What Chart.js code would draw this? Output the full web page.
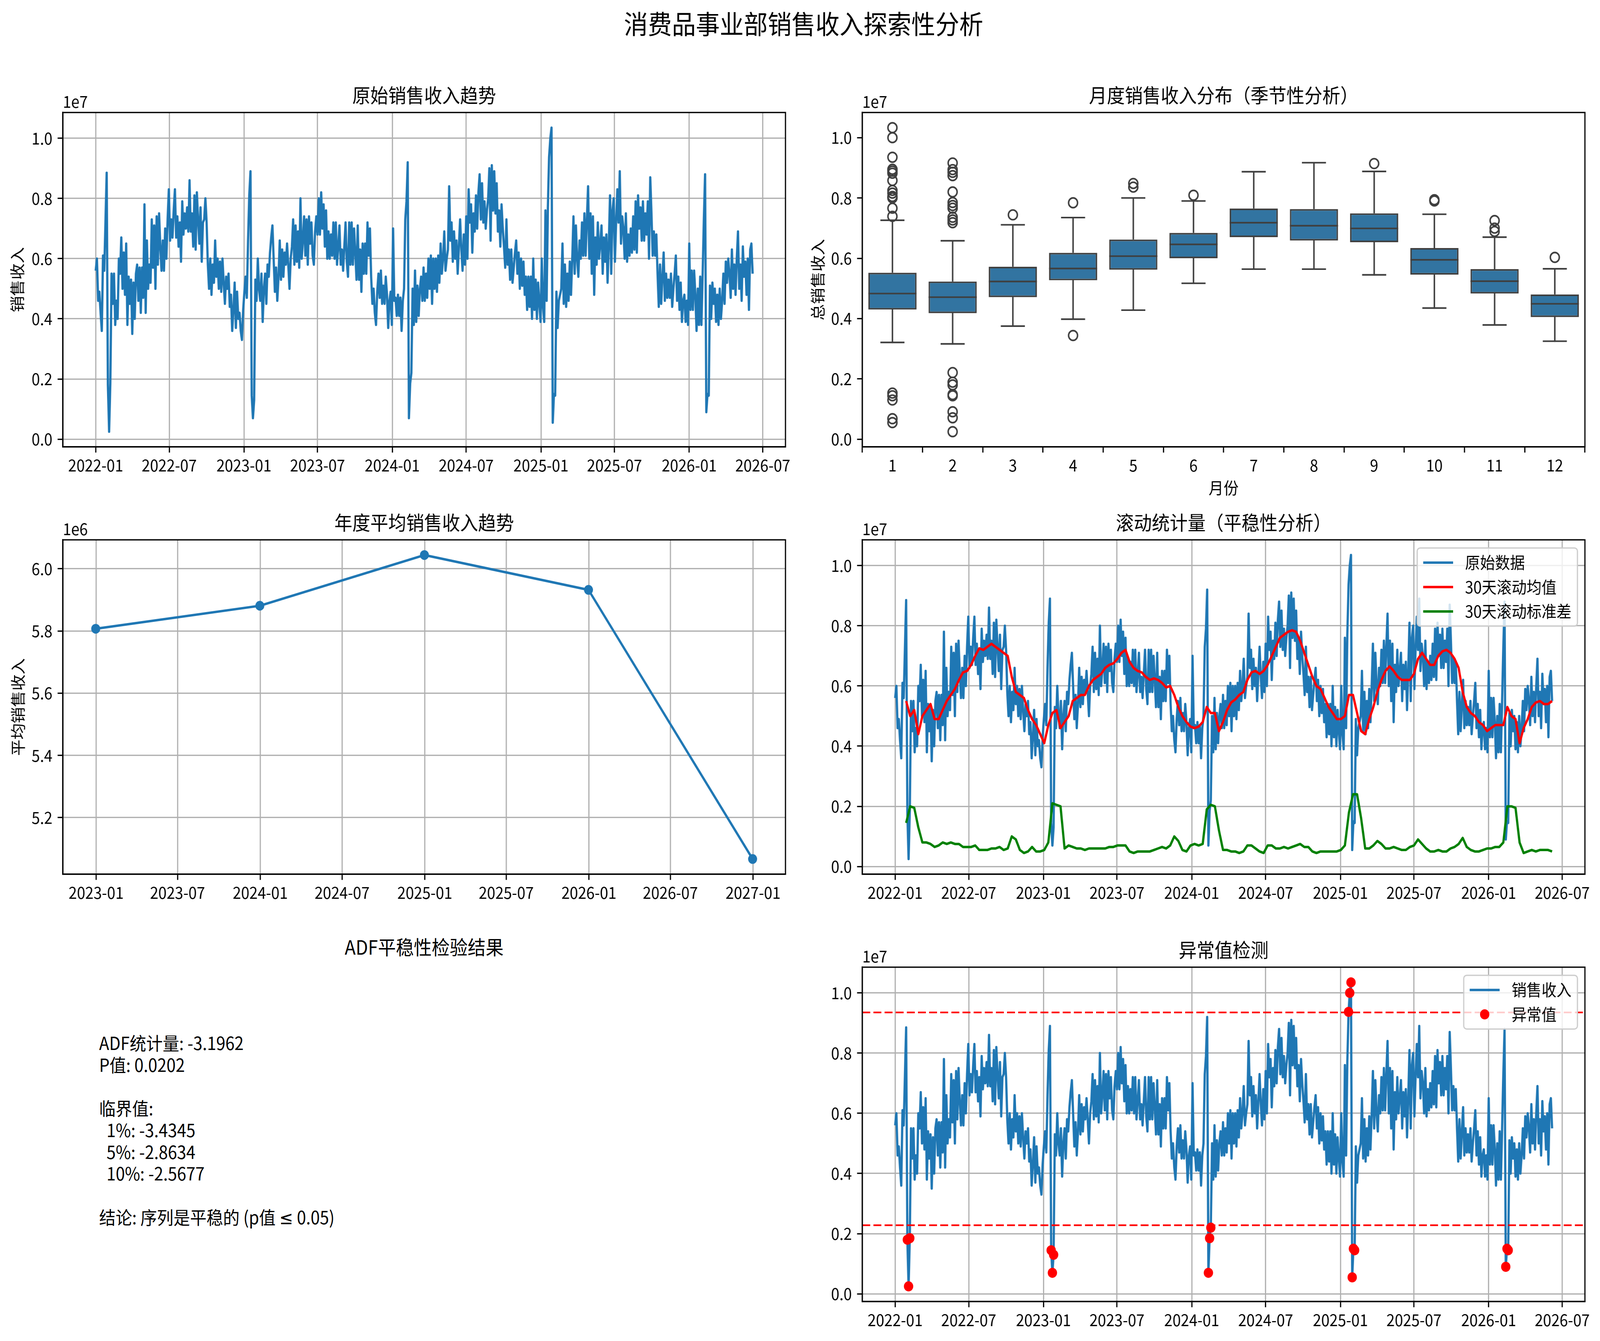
<!DOCTYPE html>
<html>
<head>
<meta charset="utf-8">
<script src="https://cdn.jsdelivr.net/npm/chart.js@4.4.1/dist/chart.umd.min.js"></script>
<style>
  html, body { margin: 0; padding: 0; background: #fff; overflow: hidden; }
  #fig { position: relative; width: 4455px; height: 3433px; overflow: hidden; background: #fff;
         font-family: "Noto Sans CJK SC", "Noto Sans", sans-serif; color: #000; transform-origin: 0 0; }
  canvas { position: absolute; }
  .txt { position: absolute; white-space: pre; }
  .sym { font-family: "DejaVu Sans", sans-serif; }
</style>
</head>
<body>
<div id="fig">
  <div class="txt" style="left:10px;top:18px;width:4455px;text-align:center;font-size:66.7px;line-height:80px;">消费品事业部销售收入探索性分析</div>

  <canvas id="raw" width="2227" height="1025" style="left:0px;top:214px;"></canvas>
  <canvas id="box" width="2227" height="1090" style="left:2226px;top:214px;"></canvas>
  <canvas id="year" width="2227" height="1025" style="left:0px;top:1308px;"></canvas>
  <canvas id="roll" width="2227" height="1025" style="left:2226px;top:1308px;"></canvas>
  <canvas id="anom" width="2227" height="1025" style="left:2226px;top:2402px;"></canvas>

  <div class="txt" style="left:175px;top:2392px;width:2012px;text-align:center;font-size:50px;line-height:60px;">ADF平稳性检验结果</div>
  <div class="txt" id="adf" style="left:276px;top:2641px;font-size:46px;line-height:55.7px;"></div>
</div>

<script>
// ---------- data (销售收入单位: 1e5) ----------
const startDate = '2022-01-01';
const stepDays = 3;
const revenue = [
  56, 60, 46, 49, 42, 36, 61, 56, 72, 88.5,
  18, 2.5, 18.5, 55, 45, 55, 38, 46, 40, 60,
  55, 67, 50, 62, 48, 65, 38, 54, 45, 53,
  35, 52, 40, 55, 58, 46, 57, 42, 57, 47,
  78, 42, 66, 50, 58, 52, 73, 57, 71, 50,
  74, 58, 75, 64, 56, 66, 56, 70, 60, 73,
  83, 66, 73, 67, 76, 83, 67, 74, 64, 72,
  59, 79, 68, 75, 70, 77, 69, 86, 69, 75,
  64, 81, 63, 82, 73, 65, 77, 59, 72, 73,
  80, 72, 58, 50, 60, 48, 58, 52, 66, 54,
  60, 50, 59, 49, 60, 52, 45, 54, 50, 55,
  44, 48, 36, 43, 52, 37, 49, 40, 42, 36,
  33, 43, 49, 54, 47, 66, 81, 89, 14.5, 7,
  13, 53, 46, 60, 50, 46, 55, 39, 50, 55,
  45, 58, 54, 62, 67, 71, 60, 49, 57, 46,
  54, 66, 53, 63, 54, 62, 58, 65, 58, 50,
  60, 64, 73, 58, 71, 59, 69, 57, 80, 60,
  66, 74, 61, 73, 58, 74, 65, 72, 61, 58,
  69, 74, 68, 80, 68, 82, 70, 78, 64, 76,
  60, 69, 60, 68, 61, 72, 60, 72, 58, 64,
  71, 58, 63, 56, 64, 72, 59, 54, 72, 58,
  72, 58, 70, 62, 53, 71, 53, 63, 49, 65,
  55, 65, 55, 72, 61, 70, 54, 45, 50, 42,
  38, 49, 55, 47, 56, 45, 51, 45, 54, 48,
  37, 46, 49, 38, 70, 46, 47, 41, 48, 41,
  47, 36, 46, 50, 73, 79, 92, 7, 18.5, 22,
  50, 38, 56, 39, 51, 41, 50, 54, 46, 57,
  46, 55, 47, 60, 50, 61, 45, 60, 50, 60,
  49, 61, 52, 65, 55, 60, 69, 56, 60, 63,
  84, 66, 72, 59, 69, 60, 66, 55, 64, 73,
  63, 56, 68, 58, 74, 60, 83, 72, 78, 62,
  75, 69, 81, 70, 82, 88, 73, 85, 72, 79,
  70, 76, 80, 90, 66, 91, 76, 89, 75, 85,
  69, 76, 64, 78, 70, 64, 57, 73, 58, 63,
  53, 63, 52, 57, 62, 66, 55, 62, 50, 60,
  51, 59, 48, 54, 43, 54, 44, 54, 40, 60,
  43, 53, 40, 52, 45, 39, 60, 44, 39, 76,
  46, 77, 93.7, 100, 103.5, 5.5, 15, 14.5, 49, 37,
  46, 48, 50, 65, 45, 58, 44, 55, 46, 59,
  48, 60, 74, 55, 71, 60, 54, 66, 60, 72,
  61, 75, 61, 73, 84, 60, 75, 55, 74, 48,
  67, 58, 72, 60, 65, 71, 55, 67, 59, 68,
  52, 65, 81, 55, 76, 80, 59, 72, 83, 72,
  89, 65, 74, 70, 60, 75, 59, 68, 61, 70,
  62, 74, 63, 79, 62, 81, 70, 77, 66, 79,
  66, 75, 68, 79, 60, 87, 75, 61, 69, 61,
  68, 55, 44, 58, 45, 54, 62, 46, 55, 47,
  53, 47, 55, 44, 50, 55, 61, 46, 54, 43,
  52, 39, 46, 48, 39, 46, 38, 65, 43, 56,
  43, 56, 48, 36, 50, 38, 54, 38, 55, 73,
  88, 9, 15, 14.5, 51, 40, 52, 45, 50, 39,
  48, 38, 50, 40, 46, 55, 45, 59, 52, 60,
  55, 47, 63, 50, 58, 48, 60, 69, 50, 58,
  46, 64, 54, 59, 48, 60, 43, 63, 65, 55
];

// 30天滚动统计量 (从第27天起, 每10天一个读数)
const rollStart = 27;
const rollStep = 10;
const rollMean = [
  55, 50, 52, 44, 50, 52, 54, 49, 49, 52,
  55, 57, 59, 62, 64.5, 65, 67, 70, 72.5, 72,
  73, 74, 73, 72, 71, 70, 63, 58, 57, 56,
  52, 49, 47, 44, 41, 47, 51, 52, 46, 48,
  50, 55, 56, 57, 57, 60, 62, 63, 64, 66,
  67, 67.5, 69, 71, 72, 68, 66, 65, 64.5, 63,
  62, 62.5, 62, 61, 59.5, 60, 57, 53, 50, 48,
  46.5, 46, 46.5, 48, 53, 51, 51, 45, 48, 52,
  54.5, 55.5, 57, 58, 62, 64.5, 65, 64, 65, 67,
  70, 73, 76, 77, 78, 78.5, 78, 75, 71, 67,
  63, 60, 59, 56, 53, 51, 49, 49, 50, 57,
  57, 51, 45, 44, 49, 53, 58, 62, 65, 66.5,
  65, 63, 62, 62, 62, 64, 69, 71, 69, 67,
  67, 70, 71.5, 72, 71, 69, 66, 58, 53, 51,
  50, 48, 47, 45, 46, 47, 47, 47, 53, 50,
  49, 41, 46, 49, 53, 54.5, 55, 54, 54, 55
];
const rollStd = [
  14.5, 20, 19.5, 13, 8, 8, 7.5, 6.5, 7, 8,
  7.5, 8, 7.5, 7.5, 6.5, 6.5, 6.5, 7, 5.5, 5.5,
  5.5, 6, 6, 6.5, 5.5, 6, 10, 9, 5.5, 4.5,
  5, 6.5, 5, 5, 5.5, 8, 21, 20.5, 20, 6,
  7, 6.5, 6, 6, 5.5, 6, 6, 6, 6, 6,
  6.5, 6.5, 7, 7, 7, 5, 4.5, 5, 5, 5,
  5, 5.5, 6, 6.5, 6, 7, 10, 8.5, 5.5, 5,
  7, 7.5, 7, 7.5, 19, 20.5, 20, 12, 5.5, 5.5,
  5, 5, 4.5, 5, 7, 7, 6, 5, 4.5, 7,
  7, 6, 6, 6.5, 6, 6.5, 7, 7.5, 6.5, 6.5,
  5, 4.5, 5, 5, 5, 5, 5, 5.5, 7, 18,
  24, 24, 16, 6, 6, 7, 8.5, 7.5, 6, 6,
  6.5, 6, 5.5, 5.5, 6.5, 7, 9, 7.5, 6, 5,
  5, 5.5, 5, 5, 6, 6.5, 7.5, 9.5, 6.5, 5.5,
  5, 5, 5.5, 6, 6, 6.5, 6.5, 8, 20, 20,
  19.5, 8, 4.5, 5, 5.5, 5, 5.5, 5.5, 5.5, 5
];

// 年度平均 (年末日期)
const yearEnds = ['2022-12-31', '2023-12-31', '2024-12-31', '2025-12-31', '2026-12-31'];
const yearMean = [58.07, 58.81, 60.44, 59.32, 50.67];

// 月度箱线图
const months = [1, 2, 3, 4, 5, 6, 7, 8, 9, 10, 11, 12];
const boxQ1 = [43.0, 41.8, 47.1, 52.7, 56.2, 60.0, 67.0, 65.9, 65.3, 54.6, 48.3, 40.5];
const boxMed = [48.3, 47.1, 52.3, 56.6, 60.7, 64.6, 71.8, 70.8, 69.9, 59.5, 52.4, 44.9];
const boxQ3 = [55.2, 52.3, 57.2, 61.8, 66.2, 68.4, 76.5, 76.3, 74.9, 63.4, 56.4, 48.0];
const whiskLo = [32.1, 31.6, 37.5, 39.8, 42.8, 51.7, 56.4, 56.4, 54.5, 43.5, 37.9, 32.5];
const whiskHi = [72.6, 65.8, 71.1, 73.5, 80.0, 79.0, 88.7, 91.7, 88.8, 74.6, 67.0, 56.5];
const boxOutliers = [
  [103.3, 100, 93.5, 89.5, 88.9, 88.2, 85.8, 82.5, 81.6, 80.5, 80, 76.6, 73.9, 15.3, 14.4, 13, 6.8, 5.5],
  [91.6, 89.4, 88.5, 87.4, 82, 78.5, 77.5, 76.6, 73.6, 72.7, 71.8, 22.1, 18.9, 18, 14.8, 14.4, 9.1, 7.1, 2.5],
  [74.4], [78.4, 34.4], [84.8, 83.6], [80.9], [], [], [91.4], [79.4, 79], [72.5, 70, 68.9], [60.3]
];

// 异常值阈值
const upperBound = 93.5;
const lowerBound = 22.8;

// 刻度
const dateTicks = ['2022-01', '2022-07', '2023-01', '2023-07', '2024-01', '2024-07', '2025-01', '2025-07', '2026-01', '2026-07'];
const yearTicks = ['2023-01', '2023-07', '2024-01', '2024-07', '2025-01', '2025-07', '2026-01', '2026-07', '2027-01'];
const revTicks = [0, 0.2, 0.4, 0.6, 0.8, 1.0];
const meanTicks = [5.2, 5.4, 5.6, 5.8, 6.0];

const adfLines = [
  'ADF统计量: -3.1962',
  'P值: 0.0202',
  '',
  '临界值:',
  '  1%: -3.4345',
  '  5%: -2.8634',
  '  10%: -2.5677',
  '',
  '结论: 序列是平稳的 (p值 ≤ 0.05)'
];

// ---------- helpers ----------
const PT = 300 / 72;
const FONT = '"Noto Sans CJK SC", "Noto Sans", sans-serif';
const BLUE = '#1f77b4';
const BOXLINE = '#3f3f3f';
const FIG_W = 4455, FIG_H = 3433;

// fit the fixed-size figure into the real viewport
const fig = document.getElementById('fig');
const sx = Math.min(1, window.innerWidth / FIG_W), sy = Math.min(1, window.innerHeight / FIG_H);
if (sx < 1 || sy < 1) fig.style.transform = `scale(${sx}, ${sy})`;

Chart.defaults.font.family = FONT;
Chart.defaults.font.size = 10 * PT;
Chart.defaults.color = '#000';

function dayOf(s) {
  const p = s.split('-').map(Number);
  const s0 = startDate.split('-').map(Number);
  return (Date.UTC(p[0], p[1] - 1, p[2] || 1) - Date.UTC(s0[0], s0[1] - 1, s0[2])) / 864e5;
}
function margins(lo, hi) {
  const m = (hi - lo) * 0.05;
  return [lo - m, hi + m];
}

const gridOpts = (onArea) => ({
  display: true, drawOnChartArea: onArea, color: '#b0b0b0', lineWidth: 0.8 * PT,
  drawTicks: true, tickLength: 3.5 * PT, tickWidth: 0.8 * PT, tickColor: '#000'
});
const borderOpts = { display: true, color: '#000', width: 0.8 * PT };

function xDates(labels, lo, hi, h) {
  const pos = labels.map(dayOf);
  return {
    type: 'linear', min: lo, max: hi, offset: false,
    afterBuildTicks: s => { s.ticks = pos.map(v => ({ value: v })); },
    afterFit: s => { s.height = h; },
    ticks: { autoSkip: false, maxRotation: 0, padding: 8, callback: (v, i) => labels[i] },
    grid: gridOpts(true), border: borderOpts
  };
}
function yVals(ticks, lo, hi, title, padTop, onArea) {
  return {
    type: 'linear', min: lo, max: hi,
    afterBuildTicks: s => { s.ticks = ticks.map(v => ({ value: v })); },
    afterFit: s => { s.width = 175; },
    ticks: { padding: 3.5 * PT, callback: v => v.toFixed(1) },
    grid: gridOpts(onArea), border: borderOpts,
    title: title ? { display: true, text: title, padding: { top: padTop, bottom: 0 } } : { display: false }
  };
}
function baseOptions(title, xs, ys, extra) {
  return {
    responsive: false, animation: false, devicePixelRatio: 1, events: [],
    layout: { padding: { left: 0, right: 40, top: 0, bottom: 0 } },
    scales: { x: xs, y: ys },
    plugins: Object.assign({
      legend: { display: false }, tooltip: { enabled: false },
      title: { display: true, text: title, fullSize: false, color: '#000',
               font: { size: 12 * PT, weight: 'normal' }, padding: { top: 0, bottom: 14 } }
    }, extra)
  };
}

// frame on all four sides, like matplotlib spines
Chart.register({
  id: 'frame',
  afterDatasetsDraw(chart) {
    const { ctx, chartArea: a } = chart;
    ctx.save();
    ctx.strokeStyle = '#000';
    ctx.lineWidth = 0.8 * PT;
    ctx.strokeRect(a.left, a.top, a.width, a.height);
    ctx.restore();
  }
});
// "1e7" offset label above the y axis
Chart.register({
  id: 'offsetText',
  defaults: { text: '' },
  afterDraw(chart, args, o) {
    if (!o.text) return;
    const { ctx, chartArea: a } = chart;
    ctx.save();
    ctx.font = (10 * PT) + 'px ' + FONT;
    ctx.fillStyle = '#000';
    ctx.textAlign = 'left';
    ctx.textBaseline = 'alphabetic';
    ctx.fillText(o.text, a.left, a.top - 12);
    ctx.restore();
  }
});
// legend box in the upper right corner of the plot area
Chart.register({
  id: 'mplLegend',
  defaults: { items: null },
  afterDraw(chart, args, o) {
    if (!o.items) return;
    const { ctx, chartArea: a } = chart;
    const fs = 10 * PT, pad = 0.4 * fs, hl = 2 * fs, gap = 0.8 * fs, sp = 0.5 * fs, inset = 0.5 * fs;
    ctx.save();
    ctx.font = fs + 'px ' + FONT;
    const tw = Math.max(...o.items.map(it => ctx.measureText(it.label).width));
    const w = 2 * pad + hl + gap + tw;
    const h = 2 * pad + o.items.length * fs + (o.items.length - 1) * sp;
    const x0 = a.right - inset - w, y0 = a.top + inset;
    ctx.beginPath();
    ctx.roundRect(x0, y0, w, h, 0.2 * fs);
    ctx.fillStyle = 'rgba(255,255,255,0.8)';
    ctx.fill();
    ctx.strokeStyle = '#cccccc';
    ctx.lineWidth = 0.8 * PT;
    ctx.stroke();
    o.items.forEach((it, i) => {
      const cy = y0 + pad + fs / 2 + i * (fs + sp);
      ctx.beginPath();
      if (it.dot) {
        ctx.arc(x0 + pad + hl / 2, cy, 13, 0, Math.PI * 2);
        ctx.fillStyle = it.color;
        ctx.fill();
      } else {
        ctx.moveTo(x0 + pad, cy);
        ctx.lineTo(x0 + pad + hl, cy);
        ctx.strokeStyle = it.color;
        ctx.lineWidth = 1.5 * PT;
        ctx.stroke();
      }
      ctx.fillStyle = '#000';
      ctx.textAlign = 'left';
      ctx.textBaseline = 'middle';
      ctx.fillText(it.label, x0 + pad + hl + gap, cy);
    });
    ctx.restore();
  }
});

// ---------- derived series ----------
const rawPts = revenue.map((v, i) => ({ x: i * stepDays, y: v / 100 }));
const meanPts = rollMean.map((v, k) => ({ x: rollStart + k * rollStep, y: v / 100 }));
const stdPts = rollStd.map((v, k) => ({ x: rollStart + k * rollStep, y: v / 100 }));
const lastDay = (revenue.length - 1) * stepDays;
const [dLo, dHi] = margins(0, lastDay);
const [rLo, rHi] = margins(Math.min(...revenue) / 100, Math.max(...revenue) / 100);

const lineDs = (data, color, order, extra) => Object.assign({
  type: 'line', data, borderColor: color, backgroundColor: color, borderWidth: 1.5 * PT,
  pointRadius: 0, tension: 0, borderJoinStyle: 'round', borderCapStyle: 'butt', order
}, extra || {});

// 1. 原始销售收入趋势
new Chart(document.getElementById('raw'), {
  type: 'line',
  data: { datasets: [lineDs(rawPts, BLUE, 1)] },
  options: baseOptions('原始销售收入趋势',
    xDates(dateTicks, dLo, dHi, 95),
    yVals(revTicks, rLo, rHi, '销售收入', 23, true),
    { offsetText: { text: '1e7' } })
});

// 2. 月度销售收入分布 (箱线图)
const allBox = boxOutliers.flat().concat(whiskLo, whiskHi);
const [bLo, bHi] = margins(Math.min(...allBox) / 100, Math.max(...allBox) / 100);
const medSegs = [], whiskSegs = [], capSegs = [], outPts = [];
months.forEach((m, i) => {
  medSegs.push({ x: m - 0.4, y: boxMed[i] / 100 }, { x: m + 0.4, y: boxMed[i] / 100 }, { x: m + 0.4, y: null });
  whiskSegs.push({ x: m, y: boxQ3[i] / 100 }, { x: m, y: whiskHi[i] / 100 }, { x: m, y: null },
                 { x: m, y: boxQ1[i] / 100 }, { x: m, y: whiskLo[i] / 100 }, { x: m, y: null });
  capSegs.push({ x: m - 0.2, y: whiskHi[i] / 100 }, { x: m + 0.2, y: whiskHi[i] / 100 }, { x: m + 0.2, y: null },
               { x: m - 0.2, y: whiskLo[i] / 100 }, { x: m + 0.2, y: whiskLo[i] / 100 }, { x: m + 0.2, y: null });
  boxOutliers[i].forEach(v => outPts.push({ x: m, y: v / 100 }));
});
const boxX = {
  type: 'linear', min: 0.5, max: 12.5, offset: false,
  afterBuildTicks: s => { s.ticks = months.map(v => ({ value: v })); },
  afterFit: s => { s.height = 160; },
  ticks: { autoSkip: false, maxRotation: 0, padding: 8, callback: (v, i) => String(months[i]) },
  grid: gridOpts(false), border: borderOpts,
  title: { display: true, text: '月份', padding: { top: 0, bottom: 30 } }
};
const segStyle = { borderColor: BOXLINE, borderWidth: 1.0 * PT, spanGaps: false, borderCapStyle: 'butt' };
new Chart(document.getElementById('box'), {
  type: 'bar',
  data: {
    datasets: [
      lineDs(medSegs, BOXLINE, 0, segStyle),
      {
        type: 'bar', data: months.map((m, i) => ({ x: m, y: [boxQ1[i] / 100, boxQ3[i] / 100] })),
        backgroundColor: '#3274a1', borderColor: BOXLINE, borderWidth: 1.0 * PT, borderSkipped: false,
        categoryPercentage: 0.8, barPercentage: 1.0, grouped: false, order: 1
      },
      lineDs(whiskSegs, BOXLINE, 2, segStyle),
      lineDs(capSegs, BOXLINE, 2, segStyle),
      {
        type: 'scatter', data: outPts, pointRadius: 12.5, pointBackgroundColor: 'rgba(0,0,0,0)',
        pointBorderColor: BOXLINE, pointBorderWidth: 1.0 * PT, order: 3
      }
    ]
  },
  options: baseOptions('月度销售收入分布（季节性分析）', boxX,
    yVals(revTicks, bLo, bHi, '总销售收入', 26, false),
    { offsetText: { text: '1e7' } })
});

// 3. 年度平均销售收入趋势
const yearPts = yearMean.map((v, i) => ({ x: dayOf(yearEnds[i]), y: v / 10 }));
const [yxLo, yxHi] = margins(dayOf(yearEnds[0]), dayOf(yearEnds[yearEnds.length - 1]));
const [ymLo, ymHi] = margins(Math.min(...yearMean) / 10, Math.max(...yearMean) / 10);
new Chart(document.getElementById('year'), {
  type: 'line',
  data: { datasets: [lineDs(yearPts, BLUE, 1, { pointRadius: 12.5, pointBackgroundColor: BLUE, pointBorderColor: BLUE, pointBorderWidth: 0 })] },
  options: baseOptions('年度平均销售收入趋势',
    xDates(yearTicks, yxLo, yxHi, 95),
    yVals(meanTicks, ymLo, ymHi, '平均销售收入', 25, true),
    { offsetText: { text: '1e6' } })
});

// 4. 滚动统计量
new Chart(document.getElementById('roll'), {
  type: 'line',
  data: { datasets: [lineDs(rawPts, BLUE, 3), lineDs(meanPts, '#ff0000', 2), lineDs(stdPts, '#008000', 1)] },
  options: baseOptions('滚动统计量（平稳性分析）',
    xDates(dateTicks, dLo, dHi, 95),
    yVals(revTicks, rLo, rHi, null, 0, true),
    {
      offsetText: { text: '1e7' },
      mplLegend: { items: [
        { label: '原始数据', color: BLUE },
        { label: '30天滚动均值', color: '#ff0000' },
        { label: '30天滚动标准差', color: '#008000' }
      ] }
    })
});

// 5. 异常值检测
const anomalies = rawPts.filter(p => p.y * 100 > upperBound || p.y * 100 < lowerBound);
const bound = v => [{ x: dLo, y: v / 100 }, { x: dHi, y: v / 100 }];
new Chart(document.getElementById('anom'), {
  type: 'line',
  data: {
    datasets: [
      lineDs(rawPts, BLUE, 3),
      lineDs(bound(upperBound), '#ff0000', 2, { borderDash: [22, 9], borderWidth: 1.0 * PT }),
      lineDs(bound(lowerBound), '#ff0000', 2, { borderDash: [22, 9], borderWidth: 1.0 * PT }),
      { type: 'scatter', data: anomalies, pointRadius: 13, pointBackgroundColor: '#ff0000', pointBorderWidth: 0, order: 1 }
    ]
  },
  options: baseOptions('异常值检测',
    xDates(dateTicks, dLo, dHi, 95),
    yVals(revTicks, rLo, rHi, null, 0, true),
    {
      offsetText: { text: '1e7' },
      mplLegend: { items: [
        { label: '销售收入', color: BLUE },
        { label: '异常值', color: '#ff0000', dot: true }
      ] }
    })
});

// 6. ADF 检验文本 (≤ 用 DejaVu 字形)
const adf = document.getElementById('adf');
adfLines.join('\n').split('≤').forEach((part, i) => {
  if (i > 0) {
    const s = document.createElement('span');
    s.className = 'sym';
    s.textContent = '≤';
    adf.appendChild(s);
  }
  adf.appendChild(document.createTextNode(part));
});
</script>
</body>
</html>
